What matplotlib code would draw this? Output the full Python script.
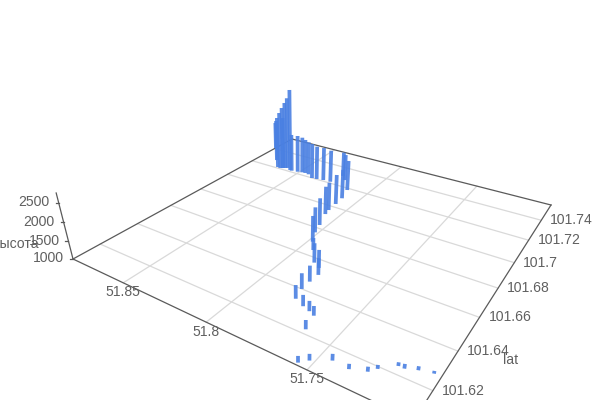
import matplotlib
matplotlib.use('Agg')
import matplotlib.pyplot as plt
import numpy as np

# Flight track, back to front.
lon = [51.8851, 51.8726, 51.8656, 51.8635, 51.8622, 51.8618, 51.8608, 51.8596, 51.8565, 51.8551,
       51.8511, 51.8482, 51.8461, 51.8433, 51.8386, 51.8355, 51.8313, 51.8265, 51.8242, 51.8204,
       51.8123, 51.8095, 51.8089, 51.8085, 51.8076, 51.8038, 51.8017, 51.7977, 51.7932, 51.7867,
       51.7825, 51.7796, 51.7800, 51.7799, 51.7781, 51.7725, 51.7684, 51.7652, 51.7632, 51.7550,
       51.7520, 51.7447, 51.7372, 51.7307, 51.7283, 51.7225, 51.7200, 51.7153, 51.7097]
lat = [101.7411, 101.7281, 101.7212, 101.7208, 101.7215, 101.7217, 101.7223, 101.7230, 101.7217, 101.7214,
       101.7221, 101.7228, 101.7230, 101.7226, 101.7199, 101.7203, 101.7211, 101.7214, 101.7306, 101.7270,
       101.7182, 101.7094, 101.7029, 101.6962, 101.6922, 101.6826, 101.6763, 101.6695, 101.6643, 101.6569,
       101.6548, 101.6508, 101.6454, 101.6400, 101.6340, 101.6319, 101.6308, 101.6296, 101.6222, 101.6079,
       101.6106, 101.6145, 101.6141, 101.6163, 101.6190, 101.6236, 101.6236, 101.6253, 101.6266]
alt = [1879, 2309, 2599, 2780, 2933, 2626, 3084, 3225, 3516, 2170,
       2167, 2131, 2078, 2043, 2096, 2041, 2029, 1994, 1764, 1810,
       1915, 1877, 1887, 1826, 1819, 1785, 1726, 1734, 1343, 1539,
       1497, 1457, 1434, 1422, 1364, 1299, 1271, 1254, 1240, 1168,
       1168, 1169, 1133, 1125, 1100, 1093, 1118, 1100, 1068]

lon_ticks = [51.85, 51.8, 51.75]
lat_ticks = [101.62, 101.64, 101.66, 101.68, 101.7, 101.72, 101.74]
alt_ticks = [1000, 1500, 2000, 2500]

lon_min, lon_max = 51.7067, 51.8853
lat_min, lat_max = 101.6068, 101.7570
alt_min, alt_max = 1000, 2750

# Camera: floor corners on screen and the vanishing point of the vertical.
corners = [(413.8, 420.6), (73, 259), (292, 139), (551, 205)]
vanish = (300., 1150.)
GREY = '#5a5a5a'
GRID = '#d9d9d9'
BLUE = '#4a80e2'


def fit_floor(pts):
    A, b = [], []
    for (u, v), (x, y) in zip([(0, 0), (1, 0), (1, 1), (0, 1)], pts):
        A.append([u, v, 1, 0, 0, 0, -u*x, -v*x])
        A.append([0, 0, 0, u, v, 1, -u*y, -v*y])
        b += [x, y]
    h = np.linalg.solve(np.array(A, float), np.array(b, float))
    return np.array([[h[0], h[1], h[2]], [h[3], h[4], h[5]], [h[6], h[7], 1.]])


H = fit_floor(corners)
# Height scale, set by the 2500 tick at the left corner.
a = -(259-203)*(H @ np.array([1., 0., 1.]))[2]/(vanish[1]-203)


def project(lo, la, z=1000):
    u = (lo-lon_min)/(lon_max-lon_min)
    v = (la-lat_min)/(lat_max-lat_min)
    p = H @ np.array([u, v, 1.])
    s = a*(z-1000)/1500.
    p = p + s*np.array([vanish[0], vanish[1], 1.])
    return p[0]/p[2], p[1]/p[2]


def line3d(ax, p0, p1, **kw):
    x0, y0 = project(*p0)
    x1, y1 = project(*p1)
    ax.plot([x0, x1], [y0, y1], **kw)


fig = plt.figure(figsize=(6, 4), dpi=100)
ax = fig.add_axes([0, 0, 1, 1])
ax.set_xlim(0, 600)
ax.set_ylim(400, 0)
ax.axis('off')
font = dict(family='Liberation Sans', fontsize=10.1, color='#606060')

# Grid on the floor.
for t in lon_ticks:
    line3d(ax, (t, lat_min), (t, lat_max), color=GRID, lw=0.9, zorder=1)
for t in lat_ticks:
    line3d(ax, (lon_min, t), (lon_max, t), color=GRID, lw=0.9, zorder=1)

# Box edges of the floor and the vertical axis.
edge = dict(color=GREY, lw=0.9, zorder=2)
line3d(ax, (lon_max, lat_min), (lon_min, lat_min), **edge)
line3d(ax, (lon_min, lat_min), (lon_min, lat_max), **edge)
line3d(ax, (lon_min, lat_max), (lon_max, lat_max), **edge)
line3d(ax, (lon_max, lat_max), (lon_max, lat_min), **edge)
x0, y0 = project(lon_max, lat_min, alt_min)
x1, y1 = project(lon_max, lat_min, alt_max)
ax.plot([x0, x1], [y0, y1], **edge)

# Tick labels.
for t in lon_ticks:
    x, y = project(t, lat_min)
    ax.text(x, y+9.5, '%g' % t, ha='center', va='center', zorder=3, **font)
for t in lat_ticks:
    x, y = project(lon_min, t)
    ax.text(x+9, y, '%g' % t, ha='left', va='center', zorder=3, **font)
for t in alt_ticks:
    x, y = project(lon_max, lat_min, t)
    ax.plot([x-3, x], [y, y], color=GREY, lw=0.9, zorder=2)
    ax.text(x-9, y-0.5, '%d' % t, ha='right', va='center', zorder=3, **font)
ax.text(503, 360, 'lat', ha='left', va='center', zorder=3, **font)
ax.text(39, 244, 'высота', ha='right', va='center', zorder=3, **font)

# Bars standing on the floor.
for i in range(len(lon)):
    x0, y0 = project(lon[i], lat[i], alt_min)
    x1, y1 = project(lon[i], lat[i], alt[i])
    ax.plot([x0, x1], [y0, y1], color=BLUE, lw=2.7, alpha=0.9,
            solid_capstyle='butt', zorder=4)

fig.savefig('out.png', dpi=100)
